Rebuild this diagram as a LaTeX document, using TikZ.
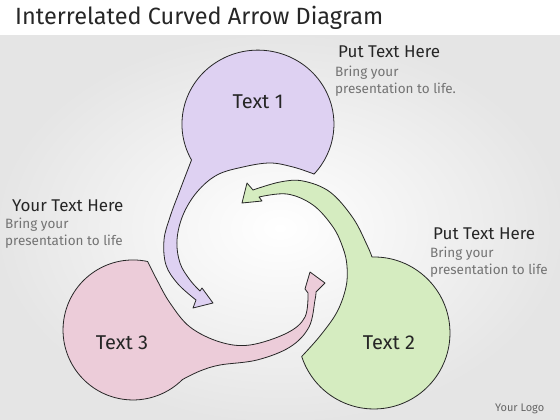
\documentclass[tikz,border=0pt]{standalone}
\usepackage{fontspec}
\setmainfont{Fira Sans}
\definecolor{lilac}{RGB}{222,209,242}
\definecolor{mint}{RGB}{213,236,192}
\definecolor{rose}{RGB}{236,204,217}
\newcommand*{\noteX}[5]{%
  \node [note head] (#1) at (#2) {#3};
  \node [note body] (#1 body) at (#4) {#5};
}

\begin{document}
\begin{tikzpicture}[x=1pt, y=-1pt,
    bubble/.style = {draw = black!85, line width = 0.8pt, line join = round},
    label text/.style = {font = \fontsize{20}{20}\selectfont, text = black!85},
    note head/.style = {anchor = base west, inner sep = 0pt,
                        font = \fontsize{17}{17}\selectfont, text = black!85},
    note body/.style = {anchor = base west, inner sep = 0pt, align = left,
                        font = \fontsize{13.5}{16.5}\selectfont, text = black!55}]

\useasboundingbox (0,0) rectangle (560,420);
\fill [white] (0,0) rectangle (560,36);
\shade [inner color=white, outer color=black!10] (0,36) rectangle (560,420);

\node [anchor=base west, inner sep=0pt, font=\fontsize{23.5}{23.5}\selectfont, text=black!85]
  (title) at (15,25) {Interrelated Curved Arrow Diagram};

% purple bubble, tail down the left
\filldraw [bubble, fill=lilac] (191.5,160)
  arc [start angle=151, end angle=402.6, x radius=76, y radius=74]
  -- plot [smooth, tension=0.6] coordinates {(314,174) (293,167) (270,163) (243,167) (217,175)
       (197,192) (183,215) (177,240) (180,263) (190,280) (200,291)}
  -- (202,288) -- (213,303) -- (193,308) -- (196,300)
  -- plot [smooth, tension=0.6] coordinates {(196,300) (178,284) (166,265) (164,240) (170,217)
       (180,190) (191.5,160)} -- cycle;

% green bubble, tail up over the top
\filldraw [bubble, fill=mint] (372,257)
  arc [start angle=-91.5, end angle=162, radius=76]
  -- plot [smooth, tension=0.6] coordinates {(301.7,356.5) (320,336) (337,312) (346,287) (347,266)
       (343,248) (333,227) (313,205) (287,194) (259,197)}
  -- (262,201) -- (242,203) -- (247,183) -- (253,190)
  -- plot [smooth, tension=0.6] coordinates {(253,190) (280,182) (303,181) (330,192) (353,218)
       (367,245) (372,257)} -- cycle;

% pink bubble, tail along the bottom
\filldraw [bubble, fill=rose] (147.6,261.5)
  arc [start angle=-78, end angle=-315, radius=70]
  -- plot [smooth, tension=0.6] coordinates {(182.5,379.5) (200,371) (220,365) (257,360) (290,347)
       (309,327) (315,300) (316,292)}
  -- (325,283) -- (310,272) -- (305,289) -- (308,293)
  -- plot [smooth, tension=0.6] coordinates {(308,293) (305,317) (287,333) (250,345) (220,342)
       (190,327) (170,303) (157,280) (147.6,261.5)} -- cycle;

\node [label text] (text1) at (258,102) {Text 1};
\node [label text] (text2) at (389,343) {Text 2};
\node [label text] (text3) at (122,343) {Text 3};

\noteX{note1}{338,58}{Put Text Here}{335,93}{Bring your\\presentation to life.}
\noteX{note2}{433,239}{Put Text Here}{430,274}{Bring your\\presentation to life}
\noteX{note3}{12,211}{Your Text Here}{5,245}{Bring your\\presentation to life}

\node [anchor=base west, inner sep=0pt, font=\fontsize{11}{11}\selectfont, text=black!60]
  (logo) at (495,411) {Your Logo};
\end{tikzpicture}
\end{document}
